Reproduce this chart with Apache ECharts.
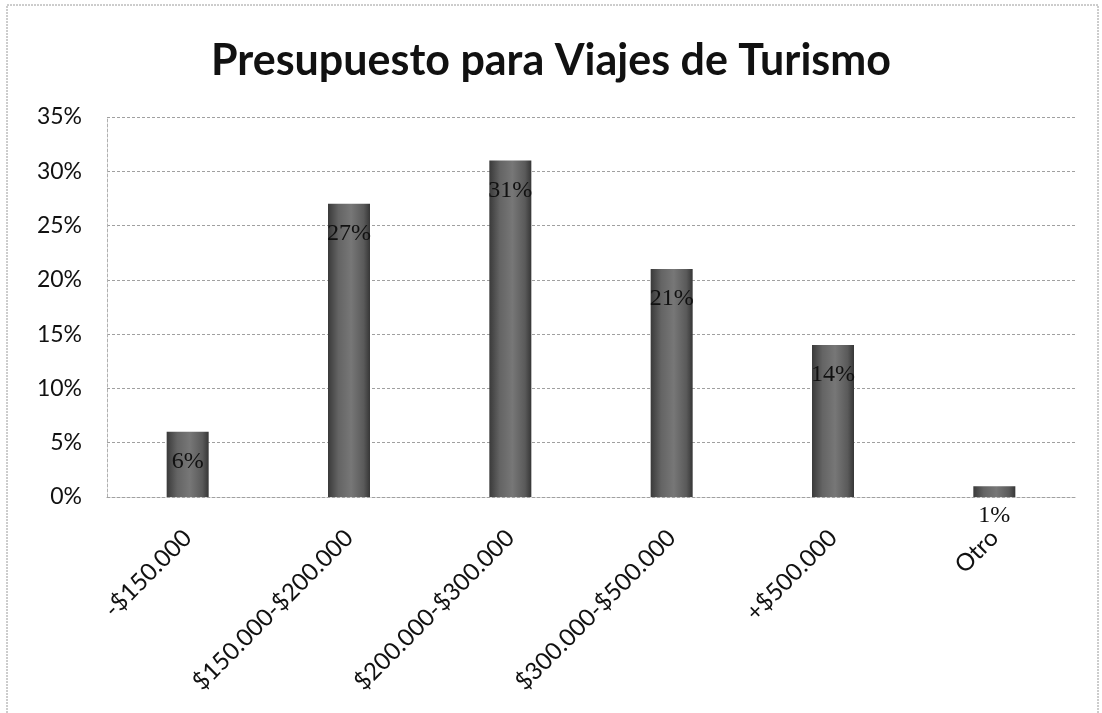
<!DOCTYPE html>
<html>
<head>
<meta charset="utf-8">
<script src="https://cdn.jsdelivr.net/npm/echarts@6/dist/echarts.min.js"></script>
<style>
  html, body { margin: 0; padding: 0; background: #ffffff; }
  #chart { width: 1102px; height: 713px; }
</style>
</head>
<body>
<div id="chart"></div>
<script>
// Budget ranges and share of respondents (%)
const categories = ['-$150.000', '$150.000-$200.000', '$200.000-$300.000', '$300.000-$500.000', '+$500.000', 'Otro'];
const shares = [6, 27, 31, 21, 14, 1];
const yTicks = [0, 5, 10, 15, 20, 25, 30, 35];

const chart = echarts.init(document.getElementById('chart'));

const barFill = new echarts.graphic.LinearGradient(0, 0, 1, 0, [
  { offset: 0, color: '#3a3a3a' },
  { offset: 0.25, color: '#646464' },
  { offset: 0.55, color: '#777777' },
  { offset: 0.85, color: '#5a5a5a' },
  { offset: 1, color: '#363636' }
]);

chart.setOption({
  backgroundColor: '#ffffff',
  animation: false,
  title: {
    text: 'Presupuesto para Viajes de Turismo',
    left: 'center',
    top: 35,
    textStyle: {
      fontFamily: 'Lato',
      fontWeight: 'bold',
      fontSize: 43,
      color: '#111111'
    }
  },
  graphic: [{
    type: 'rect',
    silent: true,
    shape: { x: 7, y: 5, width: 1091, height: 730 },
    style: { fill: 'none', stroke: '#9a9a9a', lineWidth: 1, lineDash: [2, 1] }
  }],
  grid: { left: 107, right: 27, top: 117, bottom: 216 },
  xAxis: {
    type: 'category',
    data: categories,
    axisLine: { show: true, lineStyle: { color: '#a0a0a0', type: [3, 2] } },
    axisTick: { show: false },
    axisLabel: {
      rotate: 45,
      margin: 37,
      interval: 0,
      fontFamily: 'Lato',
      fontSize: 24,
      color: '#111111'
    }
  },
  yAxis: {
    type: 'value',
    min: 0,
    max: 35,
    interval: 5,
    axisLine: { show: true, lineStyle: { color: '#b0b0b0', type: [3, 2] } },
    axisTick: { show: false },
    splitLine: { show: true, lineStyle: { color: '#a0a0a0', type: [3, 2] } },
    axisLabel: {
      margin: 25,
      fontFamily: 'Lato',
      fontSize: 23,
      color: '#111111',
      formatter: v => (yTicks.includes(v) ? v + '%' : '')
    }
  },
  series: [{
    type: 'bar',
    data: shares,
    barWidth: 42,
    itemStyle: { color: barFill },
    label: {
      show: true,
      position: 'insideTop',
      distance: 18,
      formatter: p => p.value + '%',
      fontFamily: 'Liberation Serif',
      fontSize: 24,
      color: '#111111'
    }
  }]
});
</script>
</body>
</html>
